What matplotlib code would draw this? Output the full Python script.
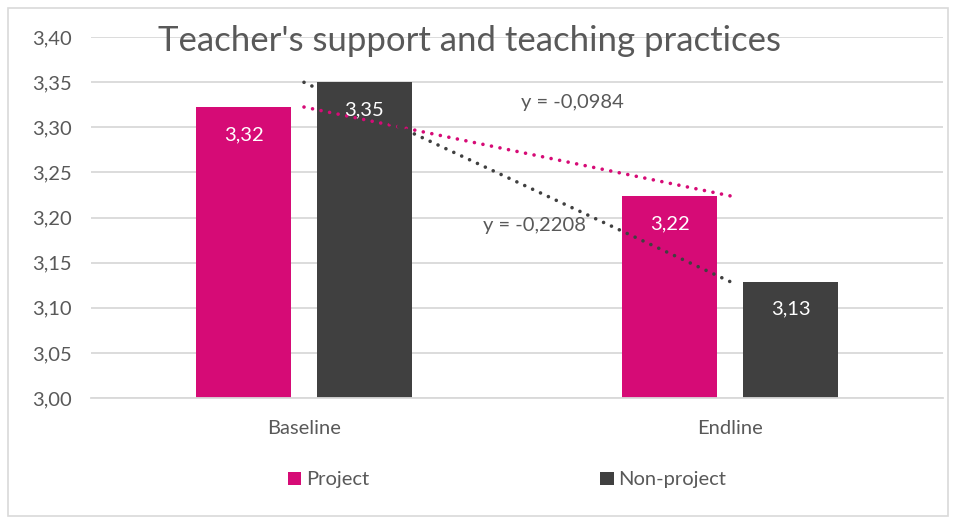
import matplotlib.pyplot as plt
import numpy as np
from matplotlib.patches import Rectangle

# data
categories = ['Baseline', 'Endline']
project = [3.3224, 3.2240]
non_project = [3.3498, 3.1290]
series_names = ['Project', 'Non-project']
trend_labels = ['y = -0,0984', 'y = -0,2208']
yticks = [3.00, 3.05, 3.10, 3.15, 3.20, 3.25, 3.30, 3.35, 3.40]

pink = '#D60B76'
dark = '#404040'
txt = '#595959'
grid = '#D9D9D9'

plt.rcParams['font.family'] = ['Lato', 'DejaVu Sans']

fig = plt.figure(figsize=(9.58, 5.24), dpi=100)
ax = fig.add_axes([91/958, 1 - 398/524, 852/958, 361/524])

x = np.arange(len(categories))
w = 0.223
off = 0.142
b1 = ax.bar(x - off, np.array(project) - 3, w, bottom=3, color=pink, label=series_names[0], zorder=2)
b2 = ax.bar(x + off, np.array(non_project) - 3, w, bottom=3, color=dark, label=series_names[1], zorder=2)

# value labels inside bars
for bars, vals in [(b1, project), (b2, non_project)]:
    for r, v in zip(bars, vals):
        ax.annotate(f'{v:.2f}'.replace('.', ','), (r.get_x() + r.get_width() / 2, v),
                    xytext=(0, -20), textcoords='offset points', ha='center', va='center',
                    color='white', fontsize=14.5, zorder=4)

# linear trendlines over category positions
for vals, c in [(project, pink), (non_project, dark)]:
    k, b = np.polyfit(x, vals, 1)
    ax.plot(x, k * x + b, linestyle=(0, (0.01, 2.4)), color=c, linewidth=2.6,
            dash_capstyle='round', zorder=3)

ax.text(0.63, 3.327, trend_labels[0], color=txt, fontsize=14.5, ha='center', va='center')
ax.text(0.542, 3.191, trend_labels[1], color=txt, fontsize=14.5, ha='center', va='center')

ax.set_ylim(3.0, 3.4)
ax.set_xlim(-0.5, 1.5)
ax.set_yticks(yticks)
ax.set_yticklabels([f'{t:.2f}'.replace('.', ',') for t in yticks], color=txt, fontsize=14.5)
ax.set_xticks(x)
ax.set_xticklabels(categories, color=txt, fontsize=14.5)
ax.tick_params(length=0, pad=14)
ax.tick_params(axis='x', pad=16)
ax.grid(axis='y', color=grid, linewidth=1.3, zorder=0)
ax.set_axisbelow(True)
for s in ['top', 'right', 'left']:
    ax.spines[s].set_visible(False)
ax.spines['bottom'].set_color(grid)
ax.spines['bottom'].set_linewidth(1.3)

fig.text(470/958, 1 - 41/524, "Teacher's support and teaching practices", ha='center', va='center',
         fontsize=25, color=txt)

fig.legend(handles=[b1, b2], loc='center', bbox_to_anchor=(507/958, 1 - 480/524), ncol=2,
           frameon=False, fontsize=14.5, handlelength=0.65, handleheight=0.65, handletextpad=0.25,
           columnspacing=11.5, labelcolor=txt)

fig.patches.append(Rectangle((8/958, 1 - 516/524), 940/958, 508/524, transform=fig.transFigure,
                             fill=False, edgecolor='#D9D9D9', linewidth=1.2))

fig.savefig('out.png', dpi=100)
